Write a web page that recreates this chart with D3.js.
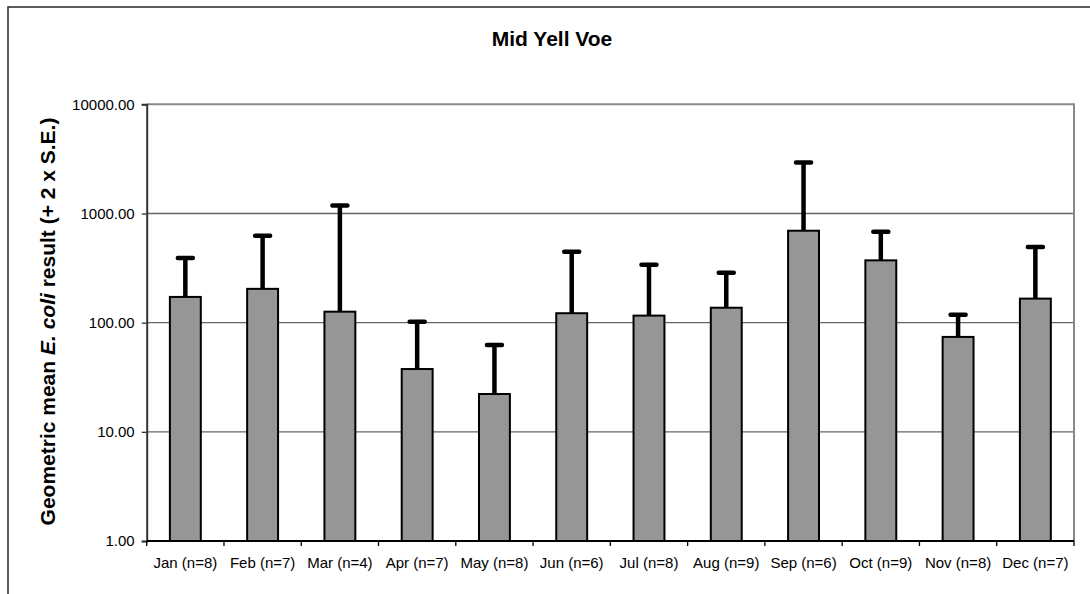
<!DOCTYPE html>
<html>
<head>
<meta charset="utf-8">
<script src="https://cdn.jsdelivr.net/npm/d3@7"></script>
<style>
  html, body { margin: 0; padding: 0; background: #fff; }
  svg { display: block; font-family: "Liberation Sans", Arial, sans-serif; }
</style>
</head>
<body>
<svg id="chart" width="1090" height="594"></svg>
<script>
const months = ["Jan (n=8)", "Feb (n=7)", "Mar (n=4)", "Apr (n=7)", "May (n=8)", "Jun (n=6)",
                "Jul (n=8)", "Aug (n=9)", "Sep (n=6)", "Oct (n=9)", "Nov (n=8)", "Dec (n=7)"];
const geoMean = [172, 204, 126, 37.6, 22.2, 122, 116, 137, 695, 372, 74, 166];
const upperLimit = [390, 625, 1186, 102, 62.4, 446, 339, 287, 2937, 680, 118, 492];
const yTicks = [1, 10, 100, 1000, 10000];
const title = "Mid Yell Voe";

const svg = d3.select("#chart");
const L = 146.7, R = 1074, T = 104.3, B = 541;

// outer chart border
svg.append("rect").attr("x", 8).attr("y", 7).attr("width", 1100).attr("height", 620)
  .attr("fill", "none").attr("stroke", "#333").attr("stroke-width", 1.6);

const x = d3.scaleBand().domain(months).range([L, R]).paddingInner(0.6).paddingOuter(0.3);
const y = d3.scaleLog().domain([1, 10000]).range([B, T]);

// gridlines
svg.append("g").selectAll("line").data(yTicks.filter(t => t > 1 && t < 10000)).join("line")
  .attr("x1", L).attr("x2", R).attr("y1", d => y(d)).attr("y2", d => y(d))
  .attr("stroke", "#666").attr("stroke-width", 1.3);

// plot border top/right
svg.append("path")
  .attr("d", `M${L},${T}H${R}V${B}`)
  .attr("fill", "none").attr("stroke", "#888").attr("stroke-width", 2);

// bars
svg.append("g").selectAll("rect").data(months).join("rect")
  .attr("x", d => x(d)).attr("width", x.bandwidth())
  .attr("y", (d, i) => y(geoMean[i])).attr("height", (d, i) => B - y(geoMean[i]))
  .attr("fill", "#969696").attr("stroke", "#000").attr("stroke-width", 2);

// error bars
const eg = svg.append("g");
months.forEach((m, i) => {
  const cx = x(m) + x.bandwidth() / 2;
  eg.append("line").attr("x1", cx).attr("x2", cx)
    .attr("y1", y(geoMean[i])).attr("y2", y(upperLimit[i]))
    .attr("stroke", "#000").attr("stroke-width", 4.5);
  eg.append("line").attr("x1", cx - 7.5).attr("x2", cx + 7.5)
    .attr("y1", y(upperLimit[i])).attr("y2", y(upperLimit[i]))
    .attr("stroke", "#000").attr("stroke-width", 4.5).attr("stroke-linecap", "round");
});

// y axis
const yAxis = d3.axisLeft(y).tickValues(yTicks).tickSize(5).tickPadding(7)
  .tickFormat(d3.format(".2f"));
const yg = svg.append("g").attr("transform", `translate(${L},0)`).call(yAxis);
yg.select(".domain").attr("stroke", "#333").attr("stroke-width", 2);
yg.selectAll(".tick line").attr("stroke", "#333").attr("stroke-width", 1.3);
yg.selectAll(".tick text").attr("font-size", 15).attr("fill", "#000")
  .attr("font-family", "'Liberation Sans', Arial, sans-serif");

// x axis
const xg = svg.append("g");
xg.append("line").attr("x1", L).attr("x2", R).attr("y1", B).attr("y2", B)
  .attr("stroke", "#000").attr("stroke-width", 2);
const step = x.step();
const bounds = d3.range(months.length + 1).map(i => L + i * step);
xg.selectAll("line.tk").data(bounds).join("line").attr("class", "tk")
  .attr("x1", d => d).attr("x2", d => d).attr("y1", B).attr("y2", B + 5)
  .attr("stroke", "#000").attr("stroke-width", 1.3);
xg.selectAll("text").data(months).join("text")
  .attr("x", d => x(d) + x.bandwidth() / 2).attr("y", 568)
  .attr("text-anchor", "middle").attr("font-size", 15).attr("fill", "#000")
  .text(d => d);

// title
svg.append("text").attr("x", 552).attr("y", 46).attr("text-anchor", "middle")
  .attr("font-size", 21).attr("font-weight", "bold").text(title);

// y axis title
const yt = svg.append("text")
  .attr("transform", `translate(55,${321.5}) rotate(-90)`)
  .attr("text-anchor", "middle").attr("font-size", 21).attr("font-weight", "bold");
yt.append("tspan").text("Geometric mean ");
yt.append("tspan").attr("font-style", "italic").text("E. coli");
yt.append("tspan").text(" result (+ 2 x S.E.)");
</script>
</body>
</html>
